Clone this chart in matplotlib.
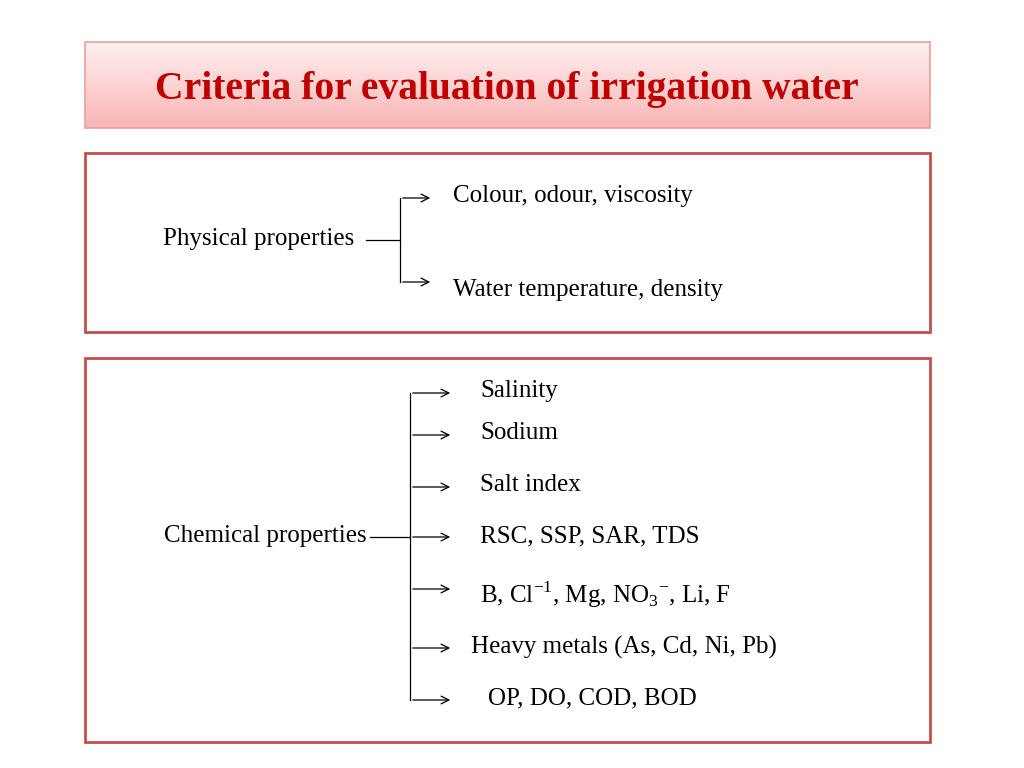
import matplotlib
matplotlib.use("Agg")
import matplotlib.pyplot as plt
import numpy as np
from matplotlib.colors import LinearSegmentedColormap

title = "Criteria for evaluation of irrigation water"
phys_label = "Physical properties"
phys_items = ["Colour, odour, viscosity", "Water temperature, density"]
chem_label = "Chemical properties"
chem_items = ["Salinity", "Sodium", "Salt index", "RSC, SSP, SAR, TDS",
              r"B, Cl$^{-1}$, Mg, NO$_3$$^{-}$, Li, F",
              "Heavy metals (As, Cd, Ni, Pb)", "OP, DO, COD, BOD"]

plt.rcParams["font.family"] = "Liberation Serif"
plt.rcParams["mathtext.fontset"] = "custom"
plt.rcParams["mathtext.rm"] = "Liberation Serif"
fig = plt.figure(figsize=(10.24, 7.68), dpi=100)
ax = fig.add_axes([0, 0, 1, 1])
ax.set_xlim(0, 1024); ax.set_ylim(768, 0); ax.axis("off")

border = "#c0504d"
cmap = LinearSegmentedColormap.from_list("g", ["#fff0f0", "#f9b5b5"])
grad = np.linspace(0, 1, 100).reshape(-1, 1)
ax.imshow(grad, cmap=cmap, extent=[85, 930, 128, 42], aspect="auto", zorder=1)
ax.add_patch(plt.Rectangle((85, 42), 845, 86, fill=False, ec="#e8a0a0", lw=1.2, zorder=2))
ax.text(507, 89, title, color="#c00000", fontsize=28.5, fontweight="bold", ha="center", va="center")

ax.add_patch(plt.Rectangle((85, 153), 845, 179, fill=False, ec=border, lw=2))
ax.add_patch(plt.Rectangle((85, 358), 845, 384, fill=False, ec=border, lw=2))

fs = 18
ap = dict(arrowstyle="->", color="black", lw=0.9, mutation_scale=14)
ax.text(163, 239, phys_label, fontsize=fs, va="center")
ax.plot([366, 400], [240, 240], color="black", lw=0.9)
py = [198, 282]
pty = [196, 290]
ax.plot([400, 400], [py[0], py[1]], color="black", lw=0.9)
for y, yy, t in zip(py, pty, phys_items):
    ax.annotate("", xy=(433, y), xytext=(400, y), arrowprops=ap)
    ax.text(453, yy, t, fontsize=fs, va="center")

ax.text(164, 536, chem_label, fontsize=fs, va="center")
cy = [393, 435, 487, 537, 589, 648, 700]
ty = [391, 433, 485, 536, 595, 647, 698]
tx = [480, 480, 480, 480, 480, 471, 488]
ax.plot([410, 410], [cy[0], cy[-1]], color="black", lw=0.9)
ax.plot([370, 410], [537, 537], color="black", lw=0.9)
for y, yy, x, t in zip(cy, ty, tx, chem_items):
    ax.annotate("", xy=(453, y), xytext=(410, y), arrowprops=ap)
    ax.text(x, yy, t, fontsize=fs, va="center")

fig.savefig("out.png", dpi=100)
